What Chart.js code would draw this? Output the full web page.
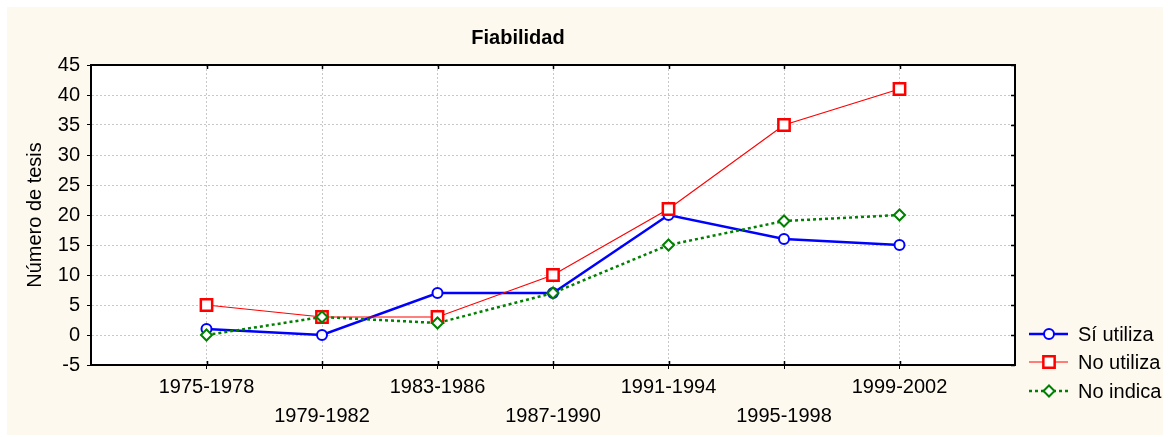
<!DOCTYPE html>
<html>
<head>
<meta charset="utf-8">
<script src="https://cdn.jsdelivr.net/npm/chart.js@4/dist/chart.umd.min.js"></script>
<style>
  html, body { margin: 0; padding: 0; background: #ffffff; }
  #wrap { width: 1170px; height: 437px; }
</style>
</head>
<body>
<div id="wrap"><canvas id="myChart" width="1170" height="437"></canvas></div>
<script>
const periods = ["1975-1978", "1979-1982", "1983-1986", "1987-1990", "1991-1994", "1995-1998", "1999-2002"];
const siUtiliza = [1, 0, 7, 7, 20, 16, 15];
const noUtiliza = [5, 3, 3, 10, 21, 35, 41];
const noIndica = [0, 3, 2, 7, 15, 19, 20];
const yTicks = [-5, 0, 5, 10, 15, 20, 25, 30, 35, 40, 45];

const FONT = "'Liberation Sans', Arial, sans-serif";

function toPoints(arr) {
  return arr.map((v, i) => ({ x: i, y: v }));
}

// cream panel behind everything
const panelBg = {
  id: "panelBg",
  beforeDraw(chart) {
    const ctx = chart.ctx;
    ctx.save();
    ctx.fillStyle = "#fef9ee";
    ctx.fillRect(7, 7, 1156, 428);
    const a = chart.chartArea;
    ctx.fillStyle = "#ffffff";
    ctx.fillRect(a.left, a.top, a.right - a.left, a.bottom - a.top);
    ctx.restore();
  },
};

// frame, top/right ticks, titles and legend
const decorations = {
  id: "decorations",
  afterDraw(chart) {
    const ctx = chart.ctx;
    const a = chart.chartArea;
    const xs = chart.scales.x;
    const ys = chart.scales.y;
    ctx.save();
    ctx.strokeStyle = "#000";
    ctx.lineWidth = 2;
    ctx.strokeRect(a.left, a.top, a.right - a.left, a.bottom - a.top);

    ctx.beginPath();
    periods.forEach((p, i) => {
      const x = Math.round(xs.getPixelForValue(i)) + 0.5;
      ctx.moveTo(x, a.top);
      ctx.lineTo(x, a.top + 4);
      ctx.moveTo(x, a.bottom);
      ctx.lineTo(x, a.bottom - 4);
    });
    yTicks.forEach((t) => {
      const y = Math.round(ys.getPixelForValue(t)) + 0.5;
      ctx.moveTo(a.right, y);
      ctx.lineTo(a.right - 4, y);
    });
    ctx.lineWidth = 1.5;
    ctx.stroke();

    // title
    ctx.fillStyle = "#000";
    ctx.font = "bold 20px " + FONT;
    ctx.textAlign = "center";
    ctx.textBaseline = "middle";
    ctx.fillText("Fiabilidad", 518, 38);

    // y axis title
    ctx.font = "20px " + FONT;
    ctx.translate(35, (a.top + a.bottom) / 2);
    ctx.rotate(-Math.PI / 2);
    ctx.fillText("Número de tesis", 0, 0);
    ctx.setTransform(1, 0, 0, 1, 0, 0);

    // legend
    const rows = [334, 362, 391];
    chart.data.datasets.forEach((ds, i) => {
      const y = rows[i];
      ctx.save();
      ctx.strokeStyle = ds.borderColor;
      ctx.lineWidth = ds.borderWidth;
      ctx.setLineDash(ds.borderDash || []);
      ctx.beginPath();
      ctx.moveTo(1029, y);
      ctx.lineTo(1068, y);
      ctx.stroke();
      ctx.setLineDash([]);
      ctx.fillStyle = "#fff";
      ctx.lineWidth = ds.pointBorderWidth;
      Chart.helpers.drawPoint(ctx, {
        pointStyle: ds.pointStyle,
        radius: ds.pointRadius,
        rotation: 0,
        borderWidth: ds.pointBorderWidth,
      }, 1049, y);
      ctx.restore();
      ctx.fillStyle = "#000";
      ctx.font = "20px " + FONT;
      ctx.textAlign = "left";
      ctx.textBaseline = "middle";
      ctx.fillText(ds.label, 1078, y + 1);
    });
    ctx.restore();
  },
};

const ctx = document.getElementById("myChart").getContext("2d");
const myChart = new Chart(ctx, {
  type: "line",
  data: {
    datasets: [
      {
        label: "Sí utiliza",
        data: toPoints(siUtiliza),
        borderColor: "#0000ff",
        borderWidth: 2.5,
        pointStyle: "circle",
        pointRadius: 5,
        pointBorderWidth: 2,
        pointBackgroundColor: "#ffffff",
        pointBorderColor: "#0000ff",
        order: 3,
      },
      {
        label: "No utiliza",
        data: toPoints(noUtiliza),
        borderColor: "#ff0000",
        borderWidth: 1.2,
        pointStyle: "rect",
        pointRadius: 8,
        pointBorderWidth: 2.5,
        pointBackgroundColor: "#ffffff",
        pointBorderColor: "#ff0000",
        order: 2,
      },
      {
        label: "No indica",
        data: toPoints(noIndica),
        borderColor: "#008000",
        borderWidth: 2.5,
        borderDash: [3, 3],
        pointStyle: "rectRot",
        pointRadius: 5.5,
        pointBorderWidth: 2,
        pointBackgroundColor: "#ffffff",
        pointBorderColor: "#008000",
        order: 1,
      },
    ],
  },
  options: {
    responsive: false,
    animation: false,
    layout: { padding: { left: 0, right: 155, top: 65, bottom: 0 } },
    plugins: {
      legend: { display: false },
      title: { display: false },
      tooltip: { enabled: false },
    },
    elements: { line: { tension: 0 } },
    scales: {
      x: {
        type: "linear",
        min: -1,
        max: 7,
        afterBuildTicks: (scale) => {
          scale.ticks = periods.map((p, i) => ({ value: i }));
        },
        afterFit: (scale) => {
          scale.height = 72;
        },
        ticks: {
          color: "#000",
          font: { family: FONT, size: 20, lineHeight: 1.45 },
          padding: 4,
          maxRotation: 0,
          autoSkip: false,
          callback: (v) => (v % 2 ? ["", periods[v]] : [periods[v]]),
        },
        grid: {
          color: "#c8c8c8",
          tickColor: "#000",
          tickLength: 4,
          drawOnChartArea: true,
        },
        border: { display: true, color: "#000", width: 2, dash: [2, 2] },
      },
      y: {
        min: -5,
        max: 45,
        afterBuildTicks: (scale) => {
          scale.ticks = yTicks.map((v) => ({ value: v }));
        },
        afterFit: (scale) => {
          scale.width = 91;
        },
        ticks: {
          color: "#000",
          font: { family: FONT, size: 20 },
          padding: 7,
        },
        grid: {
          color: "#c8c8c8",
          tickColor: "#000",
          tickLength: 4,
        },
        border: { display: true, color: "#000", width: 2, dash: [2, 2] },
      },
    },
  },
  plugins: [panelBg, decorations],
});
</script>
</body>
</html>
